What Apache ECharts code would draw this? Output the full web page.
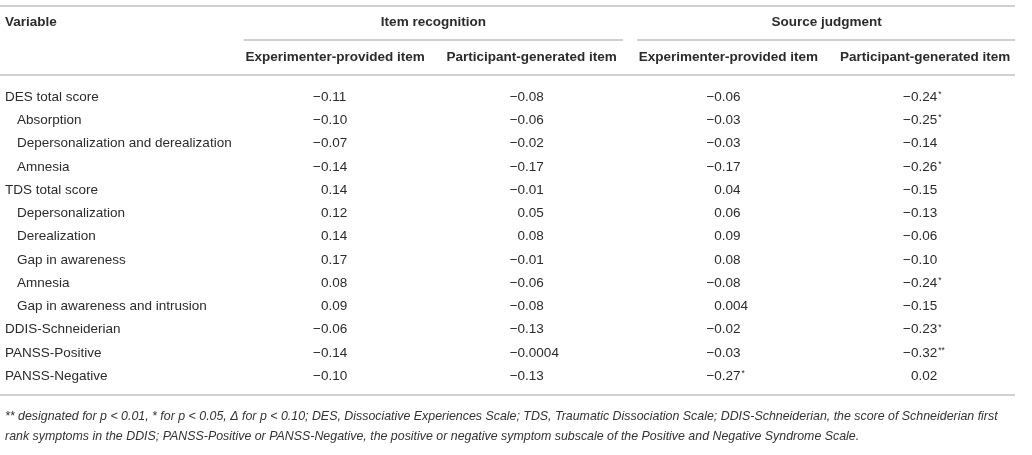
<!DOCTYPE html>
<html>
<head>
<meta charset="utf-8">
<script src="https://cdn.jsdelivr.net/npm/echarts@6/dist/echarts.min.js"></script>
<style>
  html, body { margin: 0; padding: 0; background: #fff; }
  #chart { width: 1032px; height: 455px; }
</style>
</head>
<body>
<div id="chart"></div>
<script>
  // -------- data --------
  const rowLabels = [
    'DES total score', 'Absorption', 'Depersonalization and derealization', 'Amnesia',
    'TDS total score', 'Depersonalization', 'Derealization', 'Gap in awareness', 'Amnesia',
    'Gap in awareness and intrusion', 'DDIS-Schneiderian', 'PANSS-Positive', 'PANSS-Negative'
  ];
  const rowIndent = [0, 1, 1, 1, 0, 1, 1, 1, 1, 1, 0, 0, 0];
  const groupLabels = ['Item recognition', 'Source judgment'];
  const colLabels = ['Experimenter-provided item', 'Participant-generated item',
    'Experimenter-provided item', 'Participant-generated item'];

  const irProvided = [-0.11, -0.10, -0.07, -0.14, 0.14, 0.12, 0.14, 0.17, 0.08, 0.09, -0.06, -0.14, -0.10];
  const irGenerated = [-0.08, -0.06, -0.02, -0.17, -0.01, 0.05, 0.08, -0.01, -0.06, -0.08, -0.13, -0.0004, -0.13];
  const sjProvided = [-0.06, -0.03, -0.03, -0.17, 0.04, 0.06, 0.09, 0.08, -0.08, 0.004, -0.02, -0.03, -0.27];
  const sjGenerated = [-0.24, -0.25, -0.14, -0.26, -0.15, -0.13, -0.06, -0.10, -0.24, -0.15, -0.23, -0.32, 0.02];

  const irProvidedSig = ['', '', '', '', '', '', '', '', '', '', '', '', ''];
  const irGeneratedSig = ['', '', '', '', '', '', '', '', '', '', '', '', ''];
  const sjProvidedSig = ['', '', '', '', '', '', '', '', '', '', '', '', '*'];
  const sjGeneratedSig = ['*', '*', '', '*', '', '', '', '', '*', '', '*', '**', ''];

  const footnote = [
    '** designated for p < 0.01, * for p < 0.05, \u0394 for p < 0.10; DES, Dissociative Experiences Scale; TDS, Traumatic Dissociation Scale; DDIS-Schneiderian, the score of Schneiderian first',
    'rank symptoms in the DDIS; PANSS-Positive or PANSS-Negative, the positive or negative symptom subscale of the Positive and Negative Syndrome Scale.'
  ];

  // -------- helpers --------
  const FONT = '"Liberation Sans", Arial, sans-serif';
  const FS = 13.5;
  const INK = '#2b2b2b';
  const RULE = '#c2c2c2';

  const columns = [
    { values: irProvided, sig: irProvidedSig },
    { values: irGenerated, sig: irGeneratedSig },
    { values: sjProvided, sig: sjProvidedSig },
    { values: sjGenerated, sig: sjGeneratedSig },
  ];

  const fmt = (v) => {
    const a = Math.abs(v);
    const s = a >= 0.01 ? a.toFixed(2) : String(a);
    return (v < 0 ? '\u2212' : '') + s;
  };

  const ctx = document.createElement('canvas').getContext('2d');
  ctx.font = FS + 'px ' + FONT;
  const minusW = ctx.measureText('\u2212').width;

  const cells = [];
  rowLabels.forEach((_, r) => {
    columns.forEach((c, ci) => cells.push([ci, r, c.values[r]]));
  });

  const chart = echarts.init(document.getElementById('chart'), null, { renderer: 'canvas' });

  const GRID_LEFT = 236.7;
  const GRID_W = 786.7;

  chart.setOption({
    animation: false,
    grid: [
      { left: GRID_LEFT, width: GRID_W, top: 4.5, height: 70 },
      { left: GRID_LEFT, width: GRID_W, top: 85.6, height: 302.25 },
    ],
    xAxis: [
      { type: 'category', gridIndex: 0, data: colLabels, show: false },
      { type: 'category', gridIndex: 1, data: colLabels, show: false },
    ],
    yAxis: [
      {
        type: 'category', gridIndex: 0, inverse: true, data: ['Variable', ''],
        axisLine: { show: false }, axisTick: { show: false }, splitLine: { show: false },
        axisLabel: {
          align: 'left', margin: GRID_LEFT - 5, color: INK, fontFamily: FONT,
          fontSize: FS, fontWeight: 'bold',
        },
      },
      {
        type: 'category', gridIndex: 1, inverse: true, data: rowLabels.map((_, i) => i),
        axisLine: { show: false }, axisTick: { show: false }, splitLine: { show: false },
        axisLabel: {
          align: 'left', margin: GRID_LEFT - 5, interval: 0,
          formatter: (v, i) => rowIndent[i] ? '{ind|' + rowLabels[i] + '}' : '{top|' + rowLabels[i] + '}',
          rich: {
            top: { color: INK, fontFamily: FONT, fontSize: FS },
            ind: { color: INK, fontFamily: FONT, fontSize: FS, padding: [0, 0, 0, 12] },
          },
        },
      },
    ],
    series: [
      {
        // group headers + sub rules
        type: 'custom', xAxisIndex: 0, yAxisIndex: 0,
        data: groupLabels.map((_, g) => [g * 2, 0]),
        renderItem: (params, api) => {
          const g = params.dataIndex;
          const a = api.coord([g * 2, 0]);
          const b = api.coord([g * 2 + 1, 1]);
          const band = api.size([1, 0])[0];
          const x0 = a[0] - band / 2 + 7;
          const x1 = g === 1 ? 1015 : b[0] + band / 2 - 7;
          const ruleY = (a[1] + b[1]) / 2 + 0.5;
          return {
            type: 'group',
            children: [
              {
                type: 'text', x: (a[0] + b[0]) / 2, y: a[1],
                style: { text: groupLabels[g], fill: INK, font: 'bold ' + FS + 'px ' + FONT, align: 'center', verticalAlign: 'middle' },
              },
              {
                type: 'line', shape: { x1: x0, y1: ruleY, x2: x1, y2: ruleY },
                style: { stroke: RULE, lineWidth: 1.5 },
              },
            ],
          };
        },
      },
      {
        // column headers
        type: 'custom', xAxisIndex: 0, yAxisIndex: 0,
        data: colLabels.map((_, i) => [i, 1]),
        renderItem: (params, api) => {
          const p = api.coord([api.value(0), api.value(1)]);
          return {
            type: 'text', x: p[0], y: p[1],
            style: { text: colLabels[params.dataIndex], fill: INK, font: 'bold ' + FS + 'px ' + FONT, align: 'center', verticalAlign: 'middle' },
          };
        },
      },
      {
        // correlation cells
        type: 'custom', xAxisIndex: 1, yAxisIndex: 1,
        data: cells,
        renderItem: (params, api) => {
          const ci = api.value(0);
          const r = api.value(1);
          const v = api.value(2);
          const p = api.coord([ci, r]);
          const sig = columns[ci].sig[r];
          const x = p[0] - 22 + (v < 0 ? 0 : minusW);
          return {
            type: 'text', x: x, y: p[1],
            style: {
              text: '{v|' + fmt(v) + '}' + (sig ? '{s|' + sig + '}' : ''),
              align: 'left', verticalAlign: 'middle',
              rich: {
                v: { fill: INK, fontFamily: FONT, fontSize: FS, lineHeight: 16, verticalAlign: 'middle' },
                s: { fill: INK, fontFamily: FONT, fontSize: 8.5, lineHeight: 16, verticalAlign: 'top', padding: [1, 0, 0, 1] },
              },
            },
          };
        },
      },
    ],
    graphic: [
      { type: 'line', shape: { x1: 0, y1: 6, x2: 1015, y2: 6 }, style: { stroke: RULE, lineWidth: 1.5 } },
      { type: 'line', shape: { x1: 0, y1: 75, x2: 1015, y2: 75 }, style: { stroke: RULE, lineWidth: 1.5 } },
      { type: 'line', shape: { x1: 0, y1: 395, x2: 1015, y2: 395 }, style: { stroke: RULE, lineWidth: 1.5 } },
      {
        type: 'text', left: 5, top: 411,
        style: { text: footnote[0], fill: '#333', font: 'italic 12.4px ' + FONT },
      },
      {
        type: 'text', left: 5, top: 431,
        style: { text: footnote[1], fill: '#333', font: 'italic 12.4px ' + FONT },
      },
    ],
  });
</script>
</body>
</html>
